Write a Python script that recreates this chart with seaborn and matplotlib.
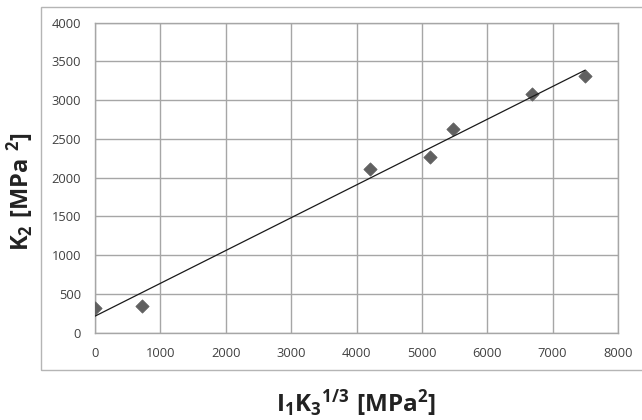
import matplotlib
matplotlib.use("Agg")
import matplotlib.pyplot as plt
import matplotlib.patches as mpatches
import numpy as np
import pandas as pd
import seaborn as sns

# Measured invariants
i1k3 = [0, 715, 4200, 5125, 5480, 6690, 7495]
k2 = [320, 348, 2108, 2267, 2628, 3084, 3312]
x_ticks = [0, 1000, 2000, 3000, 4000, 5000, 6000, 7000, 8000]
y_ticks = [0, 500, 1000, 1500, 2000, 2500, 3000, 3500, 4000]

sns.set_style("white")
plt.rcParams["font.family"] = ["Open Sans", "DejaVu Sans"]
plt.rcParams["mathtext.fontset"] = "custom"
plt.rcParams["mathtext.rm"] = "Open Sans:bold"
plt.rcParams["mathtext.it"] = "Open Sans:bold"
plt.rcParams["mathtext.bf"] = "Open Sans:bold"
plt.rcParams["mathtext.default"] = "regular"

df = pd.DataFrame({"x": i1k3, "y": k2})

fig = plt.figure(figsize=(6.42, 4.2), dpi=100)
ax = fig.add_axes([0.148, 0.208, 0.8146, 0.738])

grid_c = "#a6a6a6"
sns.regplot(data=df, x="x", y="y", ax=ax, ci=None, truncate=True,
            marker="D",
            scatter_kws={"s": 46, "color": "#606060", "edgecolor": "#606060",
                         "linewidths": 0.5, "zorder": 3, "alpha": 1},
            line_kws={"color": "#1a1a1a", "lw": 0.9, "zorder": 4})

ax.set_xlim(0, 8000)
ax.set_ylim(0, 4000)
ax.set_xticks(x_ticks)
ax.set_yticks(y_ticks)
ax.set_xticklabels([str(v) for v in x_ticks])
ax.set_yticklabels([str(v) for v in y_ticks])
ax.grid(True, color=grid_c, lw=1.0)
ax.set_axisbelow(True)
for s in ax.spines.values():
    s.set_color(grid_c)
    s.set_linewidth(1.0)
ax.tick_params(axis="both", which="major", length=5, width=1.0, color=grid_c,
               labelsize=9.3, labelcolor="#404040", direction="out")
ax.tick_params(axis="x", pad=5)
ax.tick_params(axis="y", pad=5)
ax.set_xlabel("")
ax.set_ylabel("")

# Chart-area frame
frame = mpatches.Rectangle((41 / 642, 1 - 370 / 420), 1.0, (370 - 6.5) / 420,
                           transform=fig.transFigure, fill=False,
                           edgecolor="#b5b5b5", lw=1.0, clip_on=False)
fig.patches.append(frame)

fig.text(20 / 642, 1 - 191 / 420, r"$K_2\ [MPa\ ^2]$", rotation=90,
         ha="center", va="center", fontsize=17, fontweight="bold",
         color="#222222")
fig.text(356 / 642, 1 - 403 / 420, r"$I_1K_3{}^{1/3}\ [MPa^2]$",
         ha="center", va="center", fontsize=17.5, fontweight="bold",
         color="#222222")

fig.savefig("out.png", dpi=100)
